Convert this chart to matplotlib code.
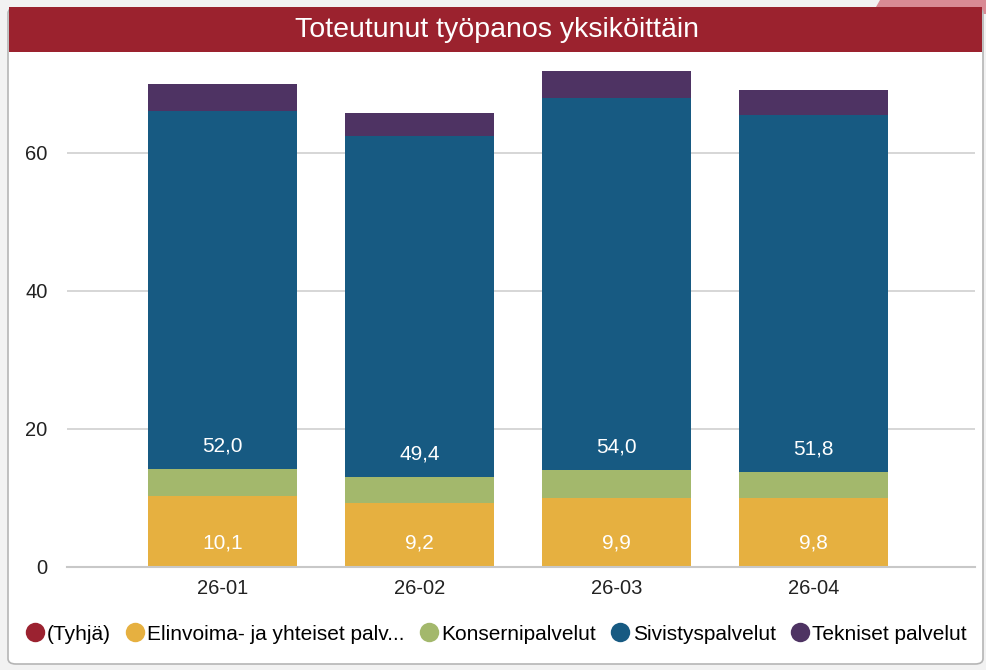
import matplotlib.pyplot as plt
from matplotlib.patches import FancyBboxPatch, Rectangle, Polygon
from matplotlib.lines import Line2D

plt.rcParams['font.family'] = ['Liberation Sans', 'DejaVu Sans']

# data
months = ["26-01", "26-02", "26-03", "26-04"]
series = ["(Tyhjä)", "Elinvoima- ja yhteiset palv...", "Konsernipalvelut",
          "Sivistyspalvelut", "Tekniset palvelut"]
tyhja = [0.1, 0.1, 0.1, 0.1]
elinvoima = [10.1, 9.2, 9.9, 9.8]
konserni = [3.9, 3.7, 4.0, 3.8]
sivistys = [52.0, 49.4, 54.0, 51.8]
tekniset = [3.9, 3.4, 3.8, 3.6]
colors = ["#9B2230", "#E6B040", "#A3B86C", "#175A82", "#4E3363"]

W, H = 986, 670
fig = plt.figure(figsize=(W / 100, H / 100), dpi=100)
fig.patch.set_facecolor("#f2f2f2")

def fx(x): return x / W
def fy(y): return 1 - y / H

# taustan punainen kulma oikealla ylhäällä
fig.add_artist(Polygon([(fx(880), fy(0)), (fx(986), fy(0)), (fx(986), fy(14)), (fx(872), fy(14))],
                       closed=True, transform=fig.transFigure, facecolor="#d98a94",
                       edgecolor="none", zorder=-12))
# kortti
fig.add_artist(FancyBboxPatch((fx(8), fy(664)), fx(975), (656) / H,
                              boxstyle="round,pad=0,rounding_size=0.008",
                              transform=fig.transFigure, facecolor="white",
                              edgecolor="#b5b5b5", linewidth=1.2, zorder=-11))
# otsikkopalkki
fig.add_artist(Rectangle((fx(9), fy(52)), fx(973), 45 / H, transform=fig.transFigure,
                         facecolor="#9B222E", edgecolor="none", zorder=-10))
fig.text(fx(497), fy(30), "Toteutunut työpanos yksiköittäin", color="white",
         fontsize=20.5, ha="center", va="center")

ax = fig.add_axes([fx(67), fy(566.7), fx(975) - fx(67), (566.7 - 63) / H])
ax.set_zorder(5)
ax.set_facecolor("white")
x = list(range(len(months)))
bottom = [0.0] * len(months)
for vals, col in zip([tyhja, elinvoima, konserni, sivistys, tekniset], colors):
    ax.bar(x, vals, width=0.76, bottom=bottom, color=col, edgecolor="none", zorder=2)
    bottom = [b + v for b, v in zip(bottom, vals)]

# arvot
for i in x:
    b_el = tyhja[i]
    ax.text(i, b_el + 3.4, f"{elinvoima[i]:.1f}".replace(".", ","), color="white",
            fontsize=15, ha="center", va="center", zorder=3)
    b_si = tyhja[i] + elinvoima[i] + konserni[i]
    ax.text(i, b_si + 3.4, f"{sivistys[i]:.1f}".replace(".", ","), color="white",
            fontsize=15, ha="center", va="center", zorder=3)

ax.set_xlim(-0.79, 3.82)
ax.set_ylim(0, 73)
ax.set_yticks([0, 20, 40, 60])
ax.set_xticks(x)
ax.set_xticklabels(months)
ax.grid(axis="y", color="#d0d0d0", linewidth=1.2, zorder=0)
ax.tick_params(length=0, labelsize=14.5, colors="#222222")
ax.tick_params(axis="x", pad=9)
ax.tick_params(axis="y", pad=14)
for s in ["top", "right", "left"]:
    ax.spines[s].set_visible(False)
ax.spines["bottom"].set_color("#c8c8c8")
ax.spines["bottom"].set_linewidth(1.5)

handles = [Line2D([], [], marker="o", linestyle="none", markersize=14,
                  markerfacecolor=c, markeredgecolor="none") for c in colors]
fig.legend(handles, series, loc="center left", bbox_to_anchor=(fx(22), fy(634)),
           ncol=5, frameon=False, fontsize=15, handletextpad=0.0, columnspacing=0.55,
           handlelength=1.2, borderaxespad=0, borderpad=0)

plt.savefig("out.png", dpi=100, facecolor=fig.get_facecolor())
